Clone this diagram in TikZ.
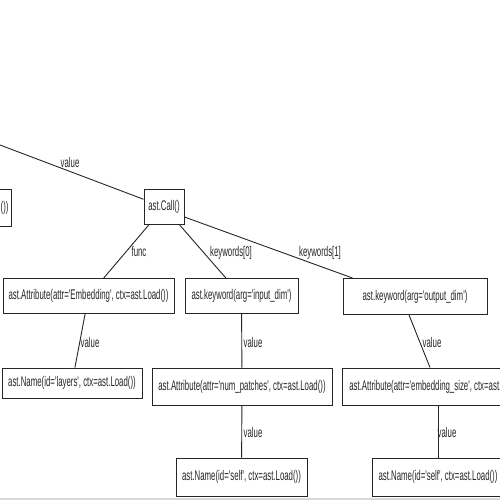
\documentclass[tikz,border=0pt]{standalone}
\usepackage{fontspec}
\newfontfamily\nf[FakeStretch=0.56, Ligatures=TeXOff]{Liberation Sans}
\usetikzlibrary{calc}
\begin{document}
\begin{tikzpicture}[x=1pt,y=-1pt,
  box/.style={draw=black!85, line width=0.9pt, inner sep=0pt, minimum height=36,
    text=black!85, font=\nf\fontsize{14}{16}\selectfont},
  lbl/.style={inner sep=0pt, text=black!85, font=\nf\fontsize{14}{16}\selectfont},
  edge/.style={draw=black!85, line width=0.9pt}]
\useasboundingbox (0,0) rectangle (500,500);
\fill[white] (0,0) rectangle (500,500);
% nodes
\node[box, anchor=east, text width=30pt, align=right, inner xsep=3pt, minimum height=37] (prev) at (12,207.5) {())};
\node[box, minimum width=40, minimum height=35] (call) at (164,207) {ast.Call()};
\node[box, minimum width=171, minimum height=35] (emb) at (88.5,296) {ast.Attribute(attr='Embedding', ctx=ast.Load())};
\node[box, minimum width=113, minimum height=35] (kw0) at (241.5,296) {ast.keyword(arg='input\_dim')};
\node[box, minimum width=144, minimum height=36] (kw1) at (415,296.5) {ast.keyword(arg='output\_dim')};
\node[box, minimum width=140, minimum height=30] (layers) at (72,383) {ast.Name(id='layers', ctx=ast.Load())};
\node[box, minimum width=180, minimum height=37] (nump) at (242,386.5) {ast.Attribute(attr='num\_patches', ctx=ast.Load())};
\node[box, minimum width=192, minimum height=37] (embsz) at (438,386.5) {ast.Attribute(attr='embedding\_size', ctx=ast.Load())};
\node[box, minimum width=131, minimum height=38] (self1) at (241.5,477) {ast.Name(id='self', ctx=ast.Load())};
\node[box, minimum width=132, minimum height=38] (self2) at (438,477) {ast.Name(id='self', ctx=ast.Load())};
\coordinate (parent) at (0,145);
% edges
\draw[edge] (parent) -- (call);
\draw[edge] (call) -- (emb);
\draw[edge] (call) -- (kw0);
\draw[edge] ($(call.east)+(0,10)$) -- ($(kw1.north west)+(10,0)$);
\draw[edge] (emb) -- (layers);
\draw[edge] (kw0) -- (nump);
\draw[edge] ($(kw1.south)+(-6,0)$) -- ($(embsz.north)+(-8,0)$);
\draw[edge] (nump) -- (self1);
\draw[edge] (embsz) -- (self2);
% labels
\node[lbl] (l1) at (70,162) {value};
\node[lbl] (l2) at (139,252) {func};
\node[lbl] (l3) at (231,253) {keywords[0]};
\node[lbl] (l4) at (320,253) {keywords[1]};
\node[lbl] (l5) at (90,342) {value};
\node[lbl] (l6) at (253,342) {value};
\node[lbl] (l7) at (432,342) {value};
\node[lbl] (l8) at (253,432) {value};
\node[lbl] (l9) at (447,432) {value};
% bottom frame line
\draw[black!15, line width=1.5pt] (0,498.8) -- (500,498.8);
\end{tikzpicture}
\end{document}
